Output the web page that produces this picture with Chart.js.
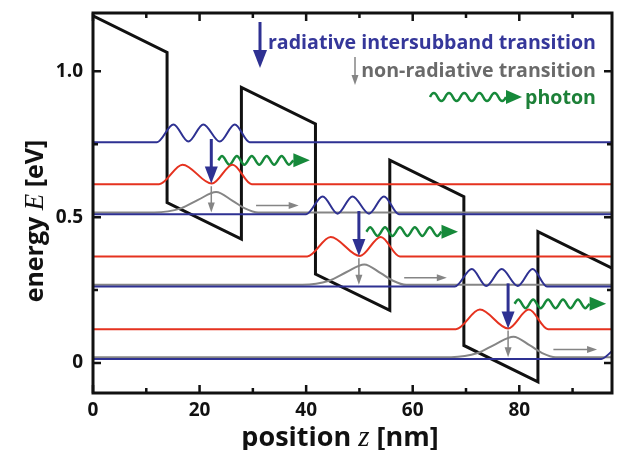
<!DOCTYPE html>
<html lang="en">
<head>
<meta charset="UTF-8">
<title>QCL band diagram</title>
<script src="https://cdn.jsdelivr.net/npm/chart.js@4.4.1/dist/chart.umd.min.js"></script>
<style>
  body { margin: 0; background: #fff; }
</style>
</head>
<body>
<canvas id="myChart" width="620" height="450"></canvas>
<script>
// axis ticks
const xTickValues = [0, 20, 40, 60, 80];
const xMinorTicks = [10, 30, 50, 70, 90];
const yTickValues = [0, 0.5, 1.0];
const yTickLabels = ['0', '0.5', '1.0'];
const yMinorTicks = [0.25, 0.75];

// conduction band edge (z in nm, E in eV)
const bandZ = [0, 13.9, 13.9, 27.85, 27.85, 41.75, 41.75, 55.7, 55.7, 69.6, 69.6, 83.5, 83.5, 97.4];
const bandE = [1.19, 1.065, 0.55, 0.425, 0.945, 0.82, 0.305, 0.18, 0.695, 0.57, 0.06, -0.065, 0.45, 0.325];

// upper laser level |psi|^2 (blue), one per period
const blue1Z = [0, 12.0, 15.1, 17.9, 20.7, 23.8, 26.6, 29.4, 97.4];
const blue1E = [0.757, 0.757, 0.818, 0.759, 0.818, 0.759, 0.818, 0.757, 0.757];
const blue2Z = [0, 40.0, 43.1, 45.9, 48.7, 51.8, 54.6, 57.4, 97.4];
const blue2E = [0.510, 0.510, 0.571, 0.512, 0.571, 0.512, 0.571, 0.510, 0.510];
const blue3Z = [0, 67.9, 71.1, 73.8, 76.7, 79.7, 82.5, 85.2, 97.4];
const blue3E = [0.262, 0.262, 0.322, 0.264, 0.322, 0.264, 0.322, 0.262, 0.262];
const blue4Z = [0, 95.4, 97.4];
const blue4E = [0.014, 0.014, 0.040];

// lower laser level (red)
const red1Z = [0, 12.4, 16.8, 22.3, 26.2, 29.8, 97.4];
const red1E = [0.613, 0.613, 0.680, 0.615, 0.680, 0.613, 0.613];
const red2Z = [0, 40.2, 44.6, 50.1, 54.0, 57.6, 97.4];
const red2E = [0.365, 0.365, 0.432, 0.367, 0.432, 0.365, 0.365];
const red3Z = [0, 68.1, 72.6, 77.9, 81.8, 85.4, 97.4];
const red3E = [0.116, 0.116, 0.183, 0.118, 0.183, 0.116, 0.116];

// ground level (grey)
const grey1Z = [0, 11.5, 16.5, 19.8, 23.1, 26.2, 28.5, 31.0, 97.4];
const grey1E = [0.516, 0.516, 0.530, 0.560, 0.586, 0.556, 0.530, 0.516, 0.516];
const grey2Z = [0, 39.3, 44.3, 47.6, 50.9, 54.0, 56.3, 58.8, 97.4];
const grey2E = [0.268, 0.268, 0.282, 0.312, 0.338, 0.308, 0.282, 0.268, 0.268];
const grey3Z = [0, 67.2, 72.2, 75.5, 78.9, 82.0, 84.3, 86.8, 97.4];
const grey3E = [0.020, 0.020, 0.034, 0.064, 0.090, 0.060, 0.034, 0.020, 0.020];

// transitions
const radZ = [22.2, 49.9, 77.9];
const radFrom = [0.768, 0.521, 0.273];
const radTo = [0.615, 0.367, 0.118];
const nonRadFrom = [0.606, 0.359, 0.111];
const nonRadTo = [0.516, 0.268, 0.020];
const relaxFromZ = [30.6, 58.4, 86.4];
const relaxToZ = [38.6, 66.4, 94.6];
const relaxE = [0.540, 0.292, 0.046];

// emitted photons (wavy arrows)
const photon1Z = [23.5, 24.2, 25.6, 27.0, 28.4, 29.8, 31.2, 32.6, 34.0, 35.4, 36.8, 37.6];
const photon1E = [0.695, 0.710, 0.680, 0.710, 0.680, 0.710, 0.680, 0.710, 0.680, 0.710, 0.680, 0.695];
const photon2Z = [51.3, 52.0, 53.4, 54.8, 56.2, 57.6, 59.0, 60.4, 61.8, 63.2, 64.6, 65.4];
const photon2E = [0.450, 0.465, 0.435, 0.465, 0.435, 0.465, 0.435, 0.465, 0.435, 0.465, 0.435, 0.450];
const photon3Z = [79.1, 79.8, 81.2, 82.6, 84.0, 85.4, 86.8, 88.2, 89.6, 91.0, 92.4, 93.2];
const photon3E = [0.203, 0.218, 0.188, 0.218, 0.188, 0.218, 0.188, 0.218, 0.188, 0.218, 0.188, 0.203];
const photonTipZ = [40.7, 68.5, 96.3];

const BLUE = '#2e3192';
const RED = '#e5321f';
const GREY = '#858585';
const GREEN = '#16893a';
const FONT = '"Open Sans", sans-serif';

function pts(zs, es) {
    return zs.map((z, i) => ({x: z, y: es[i]}));
}

function curve(zs, es, color, width) {
    return {
        data: pts(zs, es),
        borderColor: color,
        borderWidth: width,
        pointRadius: 0,
        fill: false,
        cubicInterpolationMode: 'monotone'
    };
}

function head(ctx, x, y, dx, dy, len, half, color) {
    ctx.fillStyle = color;
    ctx.beginPath();
    ctx.moveTo(x, y);
    ctx.lineTo(x - dx * len - dy * half, y - dy * len + dx * half);
    ctx.lineTo(x - dx * len + dy * half, y - dy * len - dx * half);
    ctx.closePath();
    ctx.fill();
}

function arrow(ctx, x0, y0, x1, y1, width, len, half, color) {
    const d = Math.hypot(x1 - x0, y1 - y0);
    const dx = (x1 - x0) / d, dy = (y1 - y0) / d;
    ctx.strokeStyle = color;
    ctx.lineWidth = width;
    ctx.beginPath();
    ctx.moveTo(x0, y0);
    ctx.lineTo(x1 - dx * len * 0.8, y1 - dy * len * 0.8);
    ctx.stroke();
    head(ctx, x1, y1, dx, dy, len, half, color);
}

// arrows for transitions, drawn through the chart scales
const transitions = {
    id: 'transitions',
    afterDatasetsDraw(chart) {
        const {ctx, scales: {x, y}} = chart;
        ctx.save();
        radZ.forEach((z, i) => {
            const px = x.getPixelForValue(z);
            arrow(ctx, px, y.getPixelForValue(radFrom[i]), px, y.getPixelForValue(radTo[i]), 3, 17, 6.5, BLUE);
            arrow(ctx, px, y.getPixelForValue(nonRadFrom[i]), px, y.getPixelForValue(nonRadTo[i]), 1.5, 10, 3.5, GREY);
            const ry = y.getPixelForValue(relaxE[i]);
            arrow(ctx, x.getPixelForValue(relaxFromZ[i]), ry, x.getPixelForValue(relaxToZ[i]), ry, 1.5, 10, 3.5, GREY);
        });
        const waves = [[photon1Z, photon1E], [photon2Z, photon2E], [photon3Z, photon3E]];
        waves.forEach(([zs, es], i) => {
            const n = zs.length - 1;
            const bx = x.getPixelForValue(zs[n]);
            const tx = x.getPixelForValue(photonTipZ[i]);
            head(ctx, tx, y.getPixelForValue(es[n]), 1, 0, tx - bx, 7, GREEN);
        });
        ctx.restore();
    }
};

// frame with inward ticks, axis titles and the legend
const decorations = {
    id: 'decorations',
    afterDraw(chart) {
        const {ctx, chartArea: a, scales: {x, y}} = chart;
        ctx.save();
        ctx.strokeStyle = '#111';
        ctx.lineWidth = 3;
        ctx.strokeRect(a.left, a.top, a.right - a.left, a.bottom - a.top);

        ctx.lineWidth = 2.5;
        ctx.beginPath();
        const xt = (v, len) => {
            const p = x.getPixelForValue(v);
            ctx.moveTo(p, a.bottom); ctx.lineTo(p, a.bottom - len);
            ctx.moveTo(p, a.top); ctx.lineTo(p, a.top + len);
        };
        const yt = (v, len) => {
            const p = y.getPixelForValue(v);
            ctx.moveTo(a.left, p); ctx.lineTo(a.left + len, p);
            ctx.moveTo(a.right, p); ctx.lineTo(a.right - len, p);
        };
        xTickValues.forEach(v => xt(v, 8));
        xMinorTicks.forEach(v => xt(v, 5));
        yTickValues.forEach(v => yt(v, 8));
        yMinorTicks.forEach(v => yt(v, 5));
        ctx.stroke();

        // axis titles with italic symbols
        const parts = (list) => list.reduce((w, p) => { ctx.font = p[1]; return w + ctx.measureText(p[0]).width; }, 0);
        const drawParts = (list, x0, y0) => {
            let cx = x0;
            list.forEach(p => {
                ctx.font = p[1];
                ctx.fillText(p[0], cx, y0);
                cx += ctx.measureText(p[0]).width;
            });
        };
        ctx.fillStyle = '#111';
        ctx.textBaseline = 'alphabetic';
        ctx.textAlign = 'left';
        const xTitle = [['position ', 'bold 27px ' + FONT], ['z', 'italic 29px "Liberation Serif", serif'], [' [nm]', 'bold 27px ' + FONT]];
        drawParts(xTitle, 340 - parts(xTitle) / 2, 446);
        const yTitle = [['energy ', 'bold 25px ' + FONT], ['E', 'italic 27px "Liberation Serif", serif'], [' [eV]', 'bold 25px ' + FONT]];
        ctx.save();
        ctx.translate(43, 221);
        ctx.rotate(-Math.PI / 2);
        drawParts(yTitle, -parts(yTitle) / 2, 0);
        ctx.restore();

        // legend
        ctx.font = 'bold 19.6px ' + FONT;
        ctx.textAlign = 'right';
        ctx.fillStyle = '#35379a';
        ctx.fillText('radiative intersubband transition', 596, 49);
        ctx.fillStyle = '#6a6a6a';
        ctx.fillText('non-radiative transition', 596, 77);
        ctx.fillStyle = '#1d8038';
        ctx.fillText('photon', 596, 104);

        arrow(ctx, 260, 22, 260, 68, 3, 18, 7, BLUE);
        arrow(ctx, 355, 57, 355, 85, 1.5, 10, 3.5, GREY);
        ctx.strokeStyle = GREEN;
        ctx.lineWidth = 2.5;
        ctx.beginPath();
        ctx.moveTo(430, 97);
        for (let k = 0; k < 10; k++) {
            const sx = 430 + k * 7.6;
            ctx.quadraticCurveTo(sx + 3.8, k % 2 ? 105 : 89, sx + 7.6, 97);
        }
        ctx.stroke();
        head(ctx, 522, 97, 1, 0, 16, 7, GREEN);
        ctx.restore();
    }
};

const datasets = [
    curve(blue1Z, blue1E, BLUE, 2),
    curve(blue2Z, blue2E, BLUE, 2),
    curve(blue3Z, blue3E, BLUE, 2),
    curve(blue4Z, blue4E, BLUE, 2),
    curve(grey1Z, grey1E, GREY, 2),
    curve(grey2Z, grey2E, GREY, 2),
    curve(grey3Z, grey3E, GREY, 2),
    curve(red1Z, red1E, RED, 2),
    curve(red2Z, red2E, RED, 2),
    curve(red3Z, red3E, RED, 2),
    curve(photon1Z, photon1E, GREEN, 2.5),
    curve(photon2Z, photon2E, GREEN, 2.5),
    curve(photon3Z, photon3E, GREEN, 2.5),
    {
        data: pts(bandZ, bandE),
        borderColor: '#111',
        borderWidth: 3,
        pointRadius: 0,
        tension: 0,
        fill: false,
        order: 5
    }
];

const tickFont = {family: FONT, weight: 'bold', size: 19};

new Chart(document.getElementById('myChart'), {
    type: 'line',
    data: {datasets: datasets},
    options: {
        responsive: false,
        animation: false,
        events: [],
        layout: {padding: {top: 13, right: 8, left: 0, bottom: 0}},
        plugins: {legend: {display: false}, tooltip: {enabled: false}},
        scales: {
            x: {
                type: 'linear',
                min: 0,
                max: 97.4,
                afterBuildTicks: s => { s.ticks = xTickValues.map(v => ({value: v})); },
                afterFit: s => { s.height = 57; s.paddingLeft = 0; s.paddingRight = 0; },
                grid: {display: false, drawTicks: false},
                border: {display: false},
                ticks: {font: tickFont, color: '#111', padding: 6, maxRotation: 0, autoSkip: false,
                    callback: v => String(v)}
            },
            y: {
                type: 'linear',
                min: -0.103,
                max: 1.2,
                afterBuildTicks: s => { s.ticks = yTickValues.map(v => ({value: v})); },
                afterFit: s => { s.width = 93; s.paddingTop = 0; s.paddingBottom = 0; },
                grid: {display: false, drawTicks: false},
                border: {display: false},
                ticks: {font: tickFont, color: '#111', padding: 10, autoSkip: false,
                    callback: (v, i) => yTickLabels[i]}
            }
        }
    },
    plugins: [transitions, decorations]
});
</script>
</body>
</html>
